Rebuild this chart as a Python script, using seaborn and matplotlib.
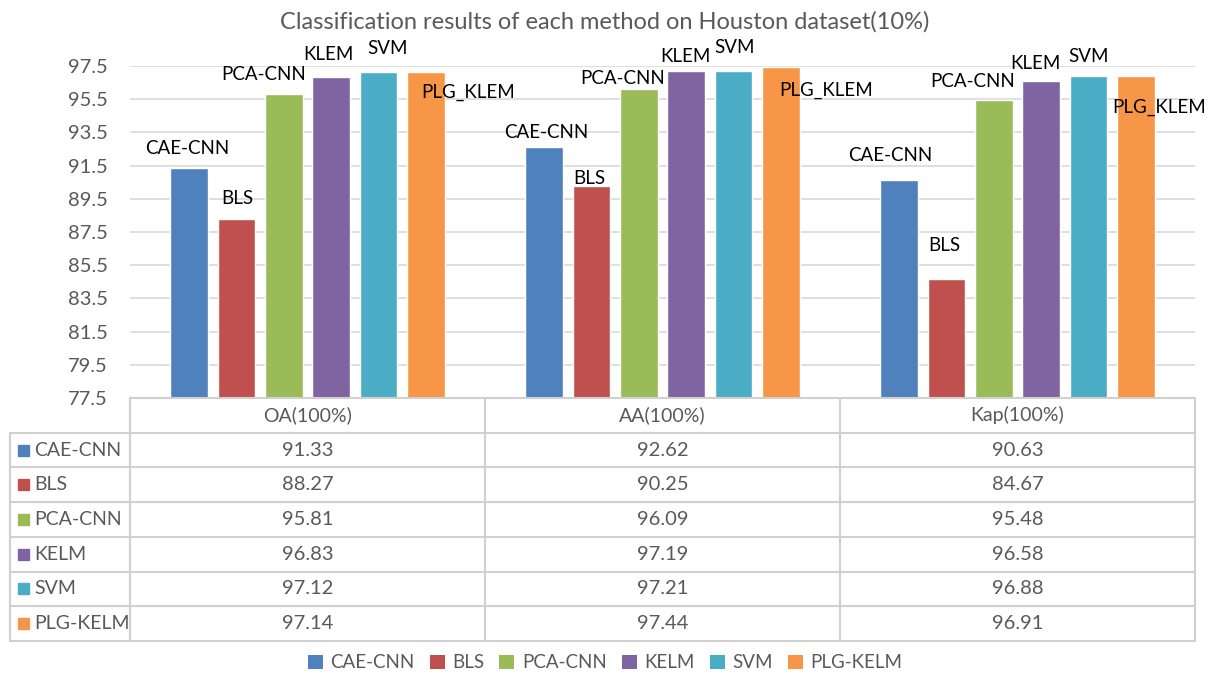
import numpy as np
import pandas as pd
import matplotlib
matplotlib.use("Agg")
import matplotlib.pyplot as plt
from matplotlib.patches import Patch, Rectangle
from matplotlib.lines import Line2D
import seaborn as sns

# data
metrics = ["OA(100%)", "AA(100%)", "Kap(100%)"]
methods = ["CAE-CNN", "BLS", "PCA-CNN", "KELM", "SVM", "PLG-KELM"]
bar_labels = ["CAE-CNN", "BLS", "PCA-CNN", "KLEM", "SVM", "PLG_KLEM"]
cae_cnn = [91.33, 92.62, 90.63]
bls = [88.27, 90.25, 84.67]
pca_cnn = [95.81, 96.09, 95.48]
kelm = [96.83, 97.19, 96.58]
svm = [97.12, 97.21, 96.88]
plg_kelm = [97.14, 97.44, 96.91]
y_ticks = [77.5, 79.5, 81.5, 83.5, 85.5, 87.5, 89.5, 91.5, 93.5, 95.5, 97.5]
title = "Classification results of each method on Houston dataset(10%)"

series = [cae_cnn, bls, pca_cnn, kelm, svm, plg_kelm]
colors = ["#4F81BD", "#C0504D", "#9BBB59", "#8064A2", "#4BACC6", "#F79646"]
# hand-placed data labels: pixel offsets (dx, dy) from each bar top, per metric
label_off = [
    [(-2, 20), (2, 15), (-9, 25)],
    [(1, 21), (-2, 8), (-2, 33)],
    [(-20, 20), (-16, 11), (-21, 18)],
    [(-3, 23), (-1, 15), (-6, 18)],
    [(9, 24), (1, 23), (0, 20)],
    [(42, -20), (45, -23), (23, -32)],
]

rows = []
for m, vals in zip(methods, series):
    for met, v in zip(metrics, vals):
        rows.append({"metric": met, "method": m, "value": v})
df = pd.DataFrame(rows)

sns.set_theme(style="white")
plt.rcParams['font.family'] = ['Lato', 'DejaVu Sans']
text_gray = "#595959"
grid_gray = "#D9D9D9"

W, H = 1210, 677
fig = plt.figure(figsize=(W / 100, H / 100), dpi=100)


def fx(px):
    return px / W


def fy(py):
    return 1 - py / H


ax_l, ax_r, ax_t, ax_b = 130, 1195, 66, 398
ax = fig.add_axes([fx(ax_l), fy(ax_b), fx(ax_r - ax_l), fy(ax_t) - fy(ax_b)])

sns.barplot(data=df, x="metric", y="value", hue="method", order=metrics,
            hue_order=methods, palette=colors, width=0.8, gap=0.2,
            legend=False, ax=ax, saturation=1)

ax.set_xlim(-0.5, 2.5)
ax.set_ylim(77.5, 97.5)
ax.set_yticks(y_ticks)
ax.set_yticklabels([f"{t:.1f}" for t in y_ticks], fontsize=14.5, color=text_gray)
ax.tick_params(axis="y", length=0, pad=16)
ax.set_xticks([])
ax.set_xlabel("")
ax.set_ylabel("")
ax.yaxis.grid(True, color=grid_gray, linewidth=1.2)
ax.set_axisbelow(True)
for s in ax.spines.values():
    s.set_visible(False)

# data labels
for i, cont in enumerate(ax.containers):
    for j, bar in enumerate(cont):
        dx, dy = label_off[i][j]
        xc = bar.get_x() + bar.get_width() / 2
        ax.annotate(bar_labels[i], xy=(xc, bar.get_height()), xytext=(dx, dy),
                    textcoords="offset pixels", ha="center", va="center",
                    fontsize=13.5, color="black", annotation_clip=False)

fig.text(0.5, fy(22), title, ha="center", va="center", fontsize=17, color=text_gray)

# data table under the axis
row_h = 34.7
col_x = [ax_l, 485, 840, ax_r]
tab_left = 10
line_kw = dict(color="#D0D0D0", linewidth=1.5)
y0 = ax_b
fig.add_artist(Line2D([fx(ax_l), fx(ax_r)], [fy(y0), fy(y0)], **line_kw))
for r in range(1, len(methods) + 2):
    y = y0 + r * row_h
    fig.add_artist(Line2D([fx(tab_left), fx(ax_r)], [fy(y), fy(y)], **line_kw))
y_end = y0 + (len(methods) + 1) * row_h
for x in col_x:
    fig.add_artist(Line2D([fx(x), fx(x)], [fy(y0), fy(y_end)], **line_kw))
fig.add_artist(Line2D([fx(tab_left), fx(tab_left)], [fy(y0 + row_h), fy(y_end)], **line_kw))

for j, met in enumerate(metrics):
    xc = (col_x[j] + col_x[j + 1]) / 2
    fig.text(fx(xc), fy(y0 + row_h / 2), met, ha="center", va="center",
             fontsize=14, color=text_gray)
    for i, vals in enumerate(series):
        yc = y0 + (i + 1.5) * row_h
        fig.text(fx(xc), fy(yc), f"{vals[j]:.2f}", ha="center", va="center",
                 fontsize=14.5, color=text_gray)

for i, m in enumerate(methods):
    yc = y0 + (i + 1.5) * row_h
    fig.add_artist(Rectangle((fx(18), fy(yc + 5.5)), fx(11), fy(yc - 5.5) - fy(yc + 5.5),
                             color=colors[i], transform=fig.transFigure))
    fig.text(fx(34), fy(yc), m, ha="left", va="center", fontsize=14, color=text_gray)

handles = [Patch(facecolor=c, edgecolor="none") for c in colors]
fig.legend(handles, methods, loc="center", bbox_to_anchor=(0.5, fy(663)), ncol=6,
           frameon=False, fontsize=13.5, handlelength=0.8, handleheight=0.8,
           handletextpad=0.4, columnspacing=0.8, labelcolor=text_gray)

fig.savefig("out.png", dpi=100)
